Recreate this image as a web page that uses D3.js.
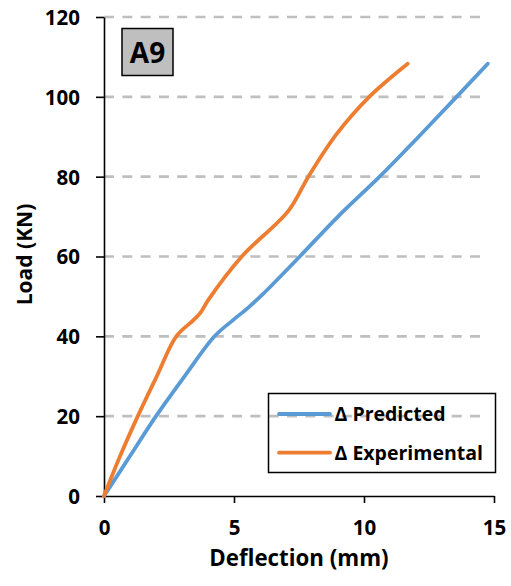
<!DOCTYPE html>
<html>
<head>
<meta charset="utf-8">
<script src="https://cdn.jsdelivr.net/npm/d3@7"></script>
<style>
  body { margin: 0; background: #fff; }
  text { font-family: "Open Sans", Lato, sans-serif; font-weight: bold; fill: #000; }
</style>
</head>
<body>
<svg id="chart" width="511" height="586"></svg>
<script>
// Load–deflection data for specimen A9
const predictedDeflection = [0, 1.0, 2.0, 3.1, 4.25, 4.95, 5.55, 6.1, 7.53, 9.0, 10.6, 12.1, 13.56, 14.76];
const predictedLoad       = [0, 10, 20, 30, 40, 44, 47.2, 50.5, 60, 70, 80, 90, 100, 108.3];
const experimentalDeflection = [0, 0.62, 1.3, 2.03, 2.78, 3.43, 3.7, 4.0, 5.3, 7.1, 7.86, 8.95, 10.2, 11.68];
const experimentalLoad       = [0, 10, 20, 30, 40, 44, 45.8, 49, 60, 71.5, 80, 90.7, 100, 108.3];

const xTicks = [0, 5, 10, 15];
const yTicks = [0, 20, 40, 60, 80, 100, 120];
const seriesNames = ["Δ Predicted", "Δ Experimental"];
const seriesColors = ["#5b9bd5", "#ed7d31"];
const panelLabel = "A9";
const xTitle = "Deflection (mm)";
const yTitle = "Load (KN)";

const svg = d3.select("#chart");

const x = d3.scaleLinear().domain([0, 15]).range([104, 494]);
const y = d3.scaleLinear().domain([0, 120]).range([496, 17]);

// Dashed horizontal gridlines
svg.append("g")
  .selectAll("line")
  .data(yTicks.filter(d => d > 0))
  .join("line")
  .attr("x1", x(0))
  .attr("x2", 488)
  .attr("y1", d => y(d))
  .attr("y2", d => y(d))
  .attr("stroke", "#bfbfbf")
  .attr("stroke-width", 2.6)
  .attr("stroke-dasharray", "10,8.3");

const tickFont = sel => sel
  .attr("font-size", 20.5)
  .style("font-family", "'Open Sans', Lato, sans-serif")
  .style("font-weight", "bold")
  .attr("fill", "#000");

// Y axis
const yAxis = svg.append("g")
  .attr("transform", `translate(${x(0)},0)`)
  .call(d3.axisLeft(y).tickValues(yTicks).tickSize(8).tickSizeOuter(0).tickPadding(16));
yAxis.selectAll("path, line").attr("stroke", "#000").attr("stroke-width", 1.6);
yAxis.selectAll("text").call(tickFont).attr("dy", "0.36em");

// X axis
const xAxis = svg.append("g")
  .attr("transform", `translate(0,${y(0)})`)
  .call(d3.axisBottom(x).tickValues(xTicks).tickSize(7).tickSizeOuter(0).tickPadding(0));
xAxis.selectAll("path, line").attr("stroke", "#000").attr("stroke-width", 1.6);
xAxis.selectAll("text").call(tickFont).attr("y", 39).attr("dy", 0);

// Axis titles
svg.append("text")
  .attr("x", (x(0) + x(15)) / 2)
  .attr("y", 566)
  .attr("text-anchor", "middle")
  .attr("font-size", 22.3)
  .text(xTitle);

svg.append("text")
  .attr("transform", `translate(32,${(y(0) + y(120)) / 2 - 2}) rotate(-90)`)
  .attr("text-anchor", "middle")
  .attr("font-size", 21)
  .text(yTitle);

// Series curves
const series = [
  { name: seriesNames[0], color: seriesColors[0],
    points: predictedDeflection.map((d, i) => [d, predictedLoad[i]]) },
  { name: seriesNames[1], color: seriesColors[1],
    points: experimentalDeflection.map((d, i) => [d, experimentalLoad[i]]) }
];

const line = d3.line()
  .x(d => x(d[0]))
  .y(d => y(d[1]))
  .curve(d3.curveCatmullRom.alpha(0.5));

svg.append("g")
  .selectAll("path")
  .data(series)
  .join("path")
  .attr("d", d => line(d.points))
  .attr("fill", "none")
  .attr("stroke", d => d.color)
  .attr("stroke-width", 3.8)
  .attr("stroke-linecap", "round")
  .attr("stroke-linejoin", "round");

// Panel label box
const label = svg.append("g");
label.append("rect")
  .attr("x", 122).attr("y", 28.5)
  .attr("width", 51).attr("height", 47)
  .attr("fill", "#bfbfbf")
  .attr("stroke", "#000")
  .attr("stroke-width", 1.5);
label.append("text")
  .attr("x", 147.5).attr("y", 52.5)
  .attr("dy", "0.36em")
  .attr("text-anchor", "middle")
  .attr("font-size", 28)
  .text(panelLabel);

// Legend (unfilled frame)
const legend = svg.append("g");
legend.append("rect")
  .attr("x", 268.5).attr("y", 393.5)
  .attr("width", 227).attr("height", 79)
  .attr("fill", "none")
  .attr("stroke", "#000")
  .attr("stroke-width", 1.5);
const items = legend.selectAll("g.item")
  .data(series)
  .join("g")
  .attr("class", "item")
  .attr("transform", (d, i) => `translate(0,${414 + i * 38.7})`);
items.append("line")
  .attr("x1", 279).attr("x2", 330)
  .attr("y1", 0).attr("y2", 0)
  .attr("stroke", d => d.color)
  .attr("stroke-width", 3.8)
  .attr("stroke-linecap", "round");
items.append("text")
  .attr("x", 334.5)
  .attr("dy", "0.36em")
  .attr("font-size", 19.5)
  .text(d => d.name);
</script>
</body>
</html>
